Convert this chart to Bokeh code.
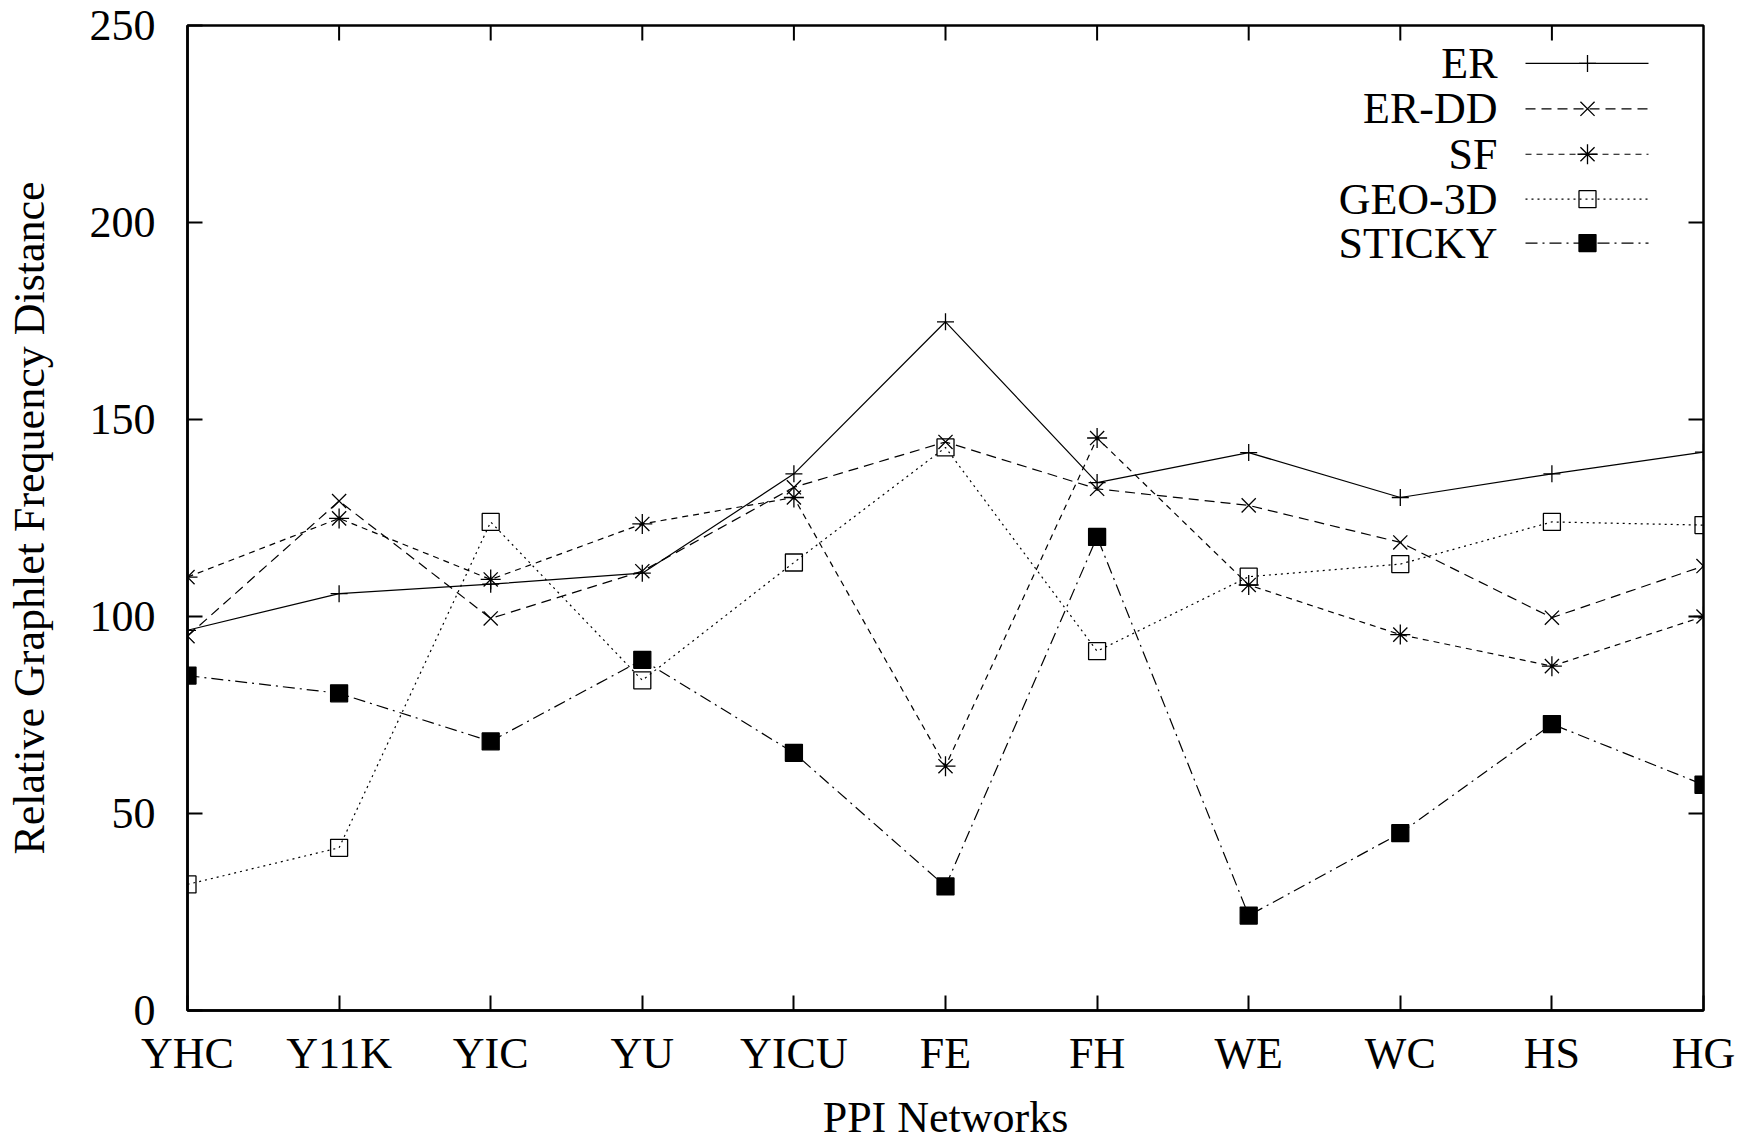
from bokeh.plotting import figure
from bokeh.models import Range1d, FixedTicker
from bokeh.core.properties import value
from bokeh.embed import file_html
from bokeh.resources import INLINE

# PPI networks on the x axis
networks = ["YHC", "Y11K", "YIC", "YU", "YICU", "FE", "FH", "WE", "WC", "HS", "HG"]

# Relative graphlet frequency distance of each model against each network
er     = [96.5, 105.8, 108.2, 111.0, 136.2, 174.8, 134.0, 141.6, 130.2, 136.2, 141.7]
er_dd  = [95.0, 129.3, 99.5, 111.5, 132.8, 144.3, 132.4, 128.2, 118.8, 99.7, 112.8]
sf     = [110.0, 124.9, 109.4, 123.5, 130.2, 62.0, 145.3, 108.0, 95.4, 87.4, 100.0]
geo_3d = [32.0, 41.3, 124.0, 83.8, 113.7, 142.9, 91.2, 110.1, 113.3, 124.0, 123.2]
sticky = [85.0, 80.5, 68.3, 89.0, 65.4, 31.5, 120.2, 24.1, 45.0, 72.7, 57.3]

y_ticks = [0, 50, 100, 150, 200, 250]

FONT = "Liberation Serif"
FS = "44px"

W, H = 1752, 1144
LEFT, RIGHT, TOP, BOTTOM = 187, 49, 25, 132
FRAME_W = W - LEFT - RIGHT
FRAME_H = H - TOP - BOTTOM
X0, X1 = 0, len(networks) - 1
Y0, Y1 = 0, 250
TICK = 15  # inward tick length in pixels

p = figure(width=W, height=H, output_backend="svg", toolbar_location=None,
           x_range=Range1d(X0, X1), y_range=Range1d(Y0, Y1),
           min_border_left=LEFT, min_border_right=RIGHT,
           min_border_top=TOP, min_border_bottom=BOTTOM)
p.grid.visible = False
p.background_fill_color = "white"
p.border_fill_color = "white"
p.outline_line_color = "black"
p.outline_line_width = 2.5

xs = list(range(len(networks)))

def style_axis(ax, ticks):
    ax.ticker = FixedTicker(ticks=ticks)
    ax.major_tick_in = TICK
    ax.major_tick_out = 0
    ax.minor_tick_line_color = None
    ax.major_tick_line_width = 2
    ax.major_tick_line_color = "black"
    ax.axis_line_width = 2.5
    ax.axis_line_color = "black"
    ax.major_label_text_font = FONT
    ax.major_label_text_font_size = FS
    ax.major_label_text_color = "black"
    ax.axis_label_text_font = FONT
    ax.axis_label_text_font_size = FS
    ax.axis_label_text_font_style = "normal"
    ax.axis_label_text_color = "black"

xa = p.xaxis[0]
style_axis(xa, xs)
xa.major_label_overrides = {i: n for i, n in enumerate(networks)}
xa.major_label_standoff = 18
xa.axis_label = "PPI Networks"
xa.axis_label_standoff = 12

ya = p.yaxis[0]
style_axis(ya, y_ticks)
ya.major_label_standoff = 32
ya.axis_label = "Relative Graphlet Frequency Distance"
ya.axis_label_standoff = 33

# mirrored inward ticks on the top and right edges of the frame
dx = TICK / FRAME_W * (X1 - X0)
dy = TICK / FRAME_H * (Y1 - Y0)
inner_y = y_ticks[1:-1]
inner_x = xs[1:-1]
p.segment(x0=[X1] * len(inner_y), y0=inner_y, x1=[X1 - dx] * len(inner_y), y1=inner_y,
          line_color="black", line_width=2)
p.segment(x0=inner_x, y0=[Y1] * len(inner_x), x1=inner_x, y1=[Y1 - dy] * len(inner_x),
          line_color="black", line_width=2)

series = [
    ("ER", er, "solid", dict(marker="cross", size=17, fill_color=None)),
    ("ER-DD", er_dd, "10 6", dict(marker="x", size=20, fill_color=None)),
    ("SF", sf, "6 5", dict(marker="asterisk", size=20, fill_color=None)),
    ("GEO-3D", geo_3d, "2 4", dict(marker="square", size=17, fill_color=None)),
    ("STICKY", sticky, "12 5 2 5", dict(marker="square", size=17, fill_color="black")),
]

for name, ys, dash, mk in series:
    p.line(xs, ys, line_color="black", line_width=1.2, line_dash=dash)
    p.scatter(xs, ys, line_color="black", line_width=1.3, **mk)

# key in the upper right corner: right-aligned label, then sample line and marker
def px_to_x(px):
    return X0 + (px - LEFT) / FRAME_W * (X1 - X0)

def px_to_y(py):
    return Y1 - (py - TOP) / FRAME_H * (Y1 - Y0)

key_rows = [63, 108.5, 154, 199, 243]
sample_x0, sample_x1 = px_to_x(1525), px_to_x(1648)
sample_mid, label_right = px_to_x(1587), px_to_x(1497)
for (name, ys, dash, mk), row in zip(series, key_rows):
    yk = px_to_y(row)
    p.line([sample_x0, sample_x1], [yk, yk], line_color="black", line_width=1.2, line_dash=dash)
    p.scatter([sample_mid], [yk], line_color="black", line_width=1.3, **mk)
    p.text([label_right], [yk], text=[name], text_align="right", text_baseline="middle",
           text_font=value(FONT), text_font_size=FS, text_color="black")

open("out.html", "w").write(file_html(p, INLINE))
